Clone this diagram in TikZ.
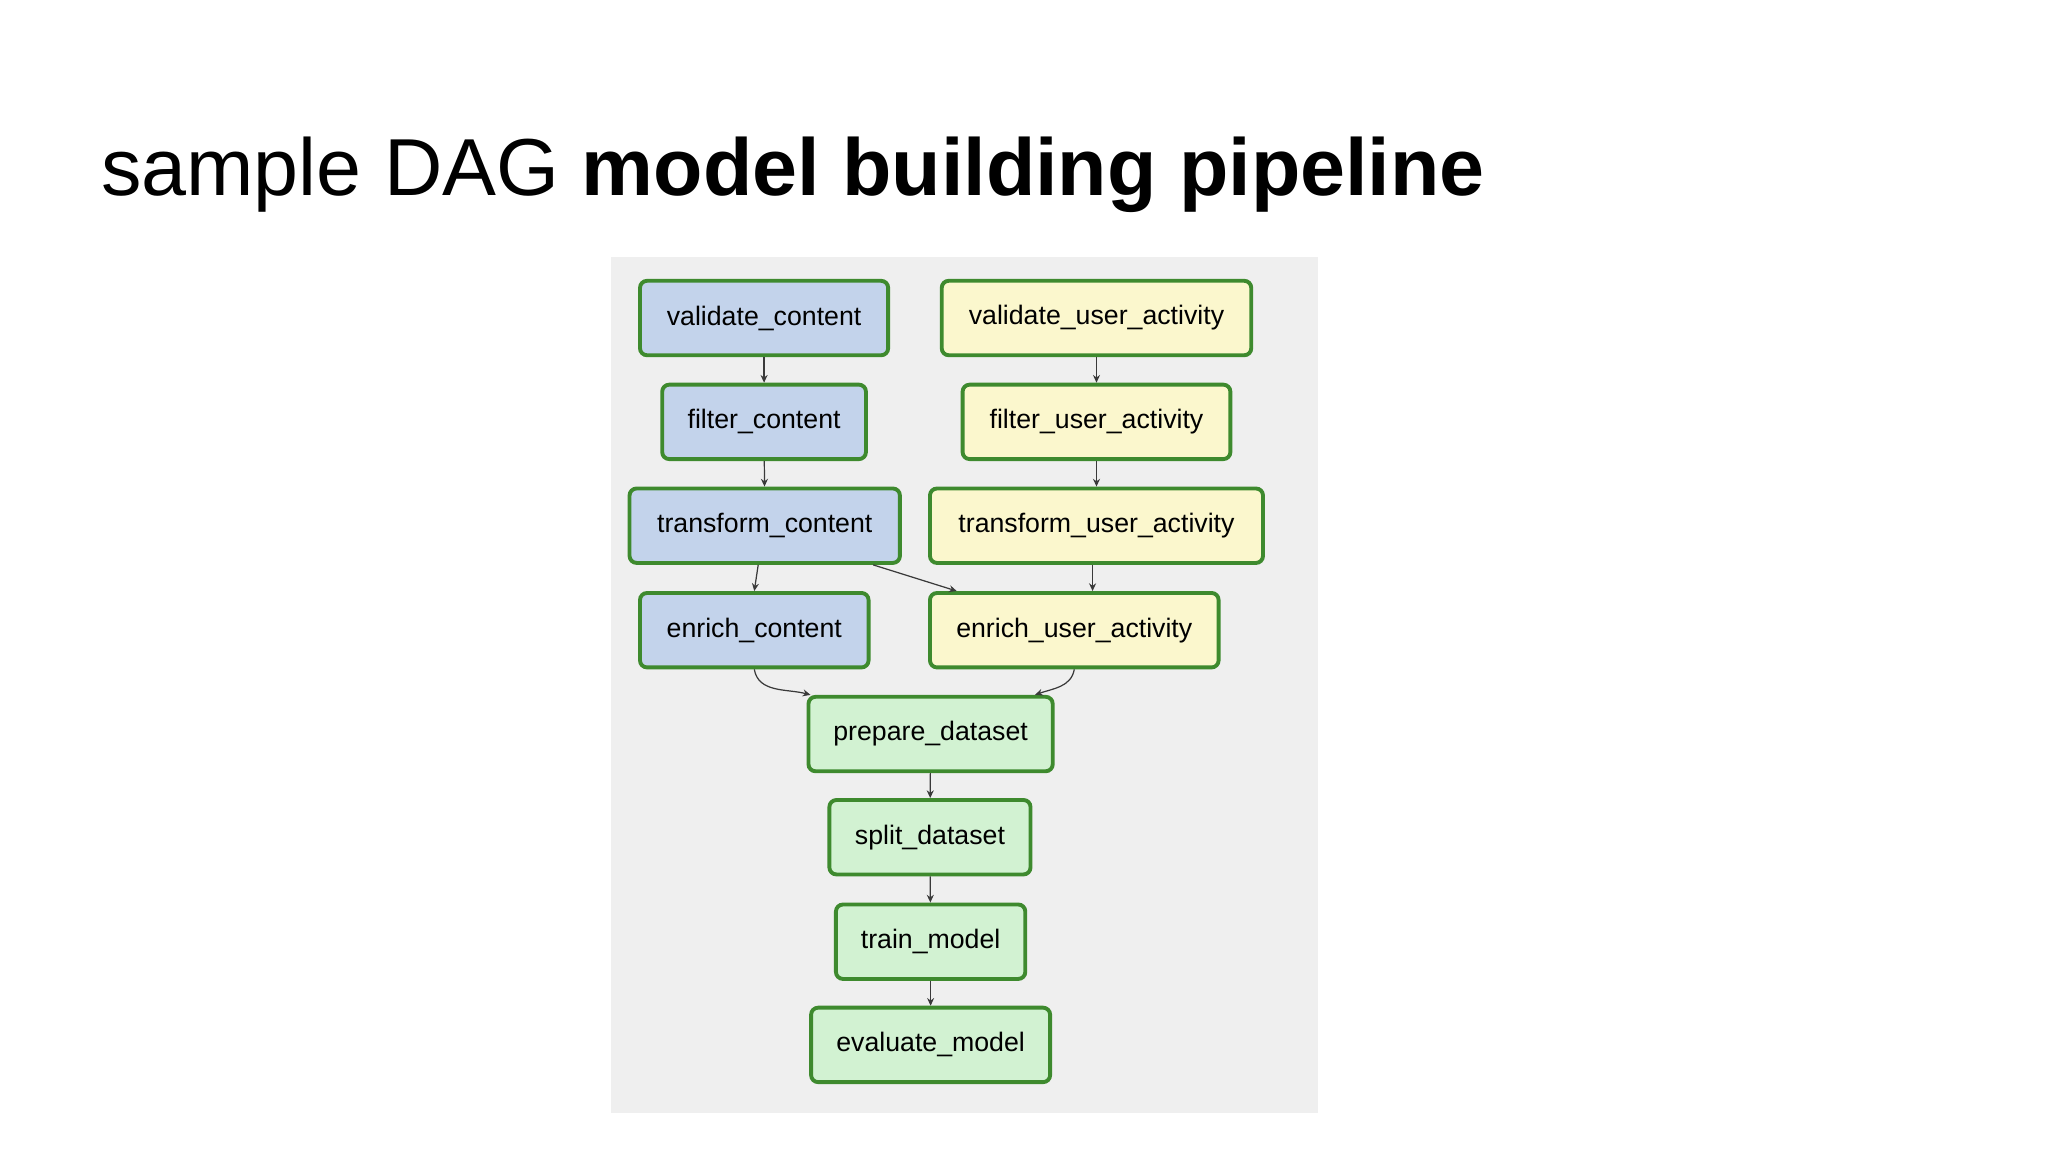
\documentclass[tikz,border=0pt]{standalone}
\usepackage{fontspec}
\setmainfont{Liberation Sans}
\usetikzlibrary{arrows.meta}
\definecolor{panel}{HTML}{EFEFEF}
\definecolor{contentblue}{HTML}{C3D3EB}
\definecolor{useryellow}{HTML}{FBF7CD}
\definecolor{modelgreen}{HTML}{D2F2D2}
\definecolor{taskborder}{HTML}{3E8A2E}
\definecolor{edgegrey}{HTML}{3A3A3A}
\begin{document}
\begin{tikzpicture}[x=0.01306cm,y=-0.01306cm,
  task/.style={draw=taskborder, line width=1.1pt, rounded corners=2pt,
    minimum height=57*0.01306cm, inner sep=0pt, font=\fontsize{7.6}{9}\selectfont},
  content/.style={task, fill=contentblue},
  user/.style={task, fill=useryellow},
  model/.style={task, fill=modelgreen},
  flow/.style={draw=edgegrey, line width=0.35pt, -{Stealth[length=2.2pt,width=2pt]}}]
 \useasboundingbox (0,0) rectangle (1568,882);
 \fill[panel] (468,197) rectangle (1009,852);
 \node[anchor=base west, font=\fontsize{23}{27}\selectfont] (title) at (68,150)
   {sample DAG \textbf{model building pipeline}};
 % content branch
 \node (vc) [content, minimum width=190*0.01306cm] at (585,243.5) {validate\_content};
 \node (fc) [content, minimum width=156*0.01306cm] at (585,323) {filter\_content};
 \node (tc) [content, minimum width=207*0.01306cm] at (585.5,402.5) {transform\_content};
 \node (ec) [content, minimum width=175*0.01306cm] at (577.5,482.5) {enrich\_content};
 % user activity branch
 \node (vu) [user, minimum width=237*0.01306cm] at (839.5,243.5) {validate\_user\_activity};
 \node (fu) [user, minimum width=205*0.01306cm] at (839.5,323) {filter\_user\_activity};
 \node (tu) [user, minimum width=255*0.01306cm] at (839.5,402.5) {transform\_user\_activity};
 \node (eu) [user, minimum width=221*0.01306cm] at (822.5,482.5) {enrich\_user\_activity};
 % model
 \node (pd) [model, minimum width=187*0.01306cm] at (712.5,562) {prepare\_dataset};
 \node (sd) [model, minimum width=154*0.01306cm] at (712,641) {split\_dataset};
 \node (tm) [model, minimum width=145*0.01306cm] at (712.5,721) {train\_model};
 \node (em) [model, minimum width=183*0.01306cm] at (712.5,800) {evaluate\_model};
 \draw[flow] (vc) -- (fc);
 \draw[flow] (fc) -- (tc);
 \draw[flow] ([xshift=-5*0.01306cm]tc.south) -- (ec.north);
 \draw[flow] ([xshift=83*0.01306cm]tc.south) -- ([xshift=-90*0.01306cm]eu.north);
 \draw[flow] (vu) -- (fu);
 \draw[flow] (fu) -- (tu);
 \draw[flow] ([xshift=-3*0.01306cm]tu.south) -- ([xshift=14*0.01306cm]eu.north);
 \draw[flow] (ec.south) to[out=-80,in=165] ([xshift=3*0.01306cm]pd.north west);
 \draw[flow] (eu.south) to[out=-100,in=20] ([xshift=-15*0.01306cm]pd.north east);
 \draw[flow] (pd) -- (sd);
 \draw[flow] (sd) -- (tm);
 \draw[flow] (tm) -- (em);
\end{tikzpicture}
\end{document}
